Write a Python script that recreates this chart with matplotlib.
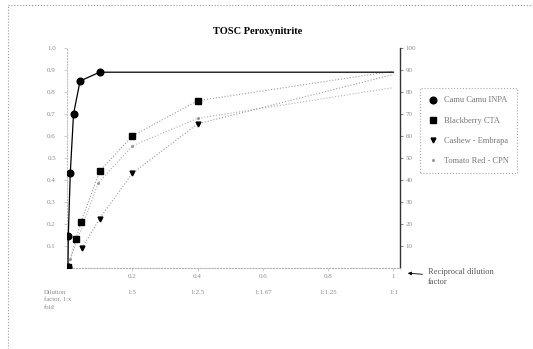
"""TOSC peroxynitrite scavenging vs reciprocal dilution factor."""

import matplotlib

matplotlib.use("Agg")
import matplotlib.pyplot as plt  # noqa: E402
from matplotlib.lines import Line2D  # noqa: E402

plt.rcParams["font.family"] = ["Liberation Serif", "DejaVu Serif"]

TITLE = "TOSC Peroxynitrite"

# reciprocal dilution factor (x) and TOSC % (y)
camu_x = [0.003, 0.004, 0.01, 0.02, 0.04, 0.1, 1.0]
camu_y = [0.5, 14.5, 43, 70, 85, 89, 89]

blackberry_x = [0.003, 0.027, 0.043, 0.1, 0.2, 0.4, 1.0]
blackberry_y = [0.5, 13, 21, 44, 60, 76, 89.5]

cashew_x = [0.046, 0.1, 0.2, 0.4, 1.0]
cashew_y = [9, 22.5, 43, 65.5, 88]

tomato_x = [0.01, 0.095, 0.2, 0.4, 1.0]
tomato_y = [4, 38.5, 55.5, 68, 82]

legend_labels = ["Camu Camu INPA", "Blackberry CTA", "Cashew - Embrapa", "Tomato Red - CPN"]

recip_ticks = [0.2, 0.4, 0.6, 0.8, 1.0]
recip_labels = ["0.2", "0.4", "0.6", "0.8", "1"]
dilution_labels = ["1:5", "1:2.5", "1:1.67", "1:1.25", "1:1"]

right_ticks = [10, 20, 30, 40, 50, 60, 70, 80, 90, 100]
left_ticks = [0.1, 0.2, 0.3, 0.4, 0.5, 0.6, 0.7, 0.8, 0.9, 1.0]

GREY = "#9a9a9a"
LABEL = "#8a8a8a"

fig = plt.figure(figsize=(5.33, 3.49), dpi=100)
ax = fig.add_axes([67 / 533, 1 - 268 / 349, 333 / 533, 220 / 349])

# no marker drawn at the shared end point x = 1
ax.plot(camu_x, camu_y, color="black", lw=0.9, marker="o", ms=4.8,
        markevery=list(range(len(camu_x) - 1)), zorder=4)
ax.plot(blackberry_x, blackberry_y, color=GREY, lw=0.8, ls=":", marker="s",
        ms=4.8, mfc="black", mec="black",
        markevery=list(range(len(blackberry_x) - 1)), zorder=3)
ax.plot(cashew_x, cashew_y, color=GREY, lw=0.8, ls=":", marker="v",
        ms=3.5, mfc="black", mec="black",
        markevery=list(range(len(cashew_x) - 1)), zorder=3)
ax.plot(tomato_x, tomato_y, color="#b0b0b0", lw=0.8, ls=":", marker=".",
        ms=2.5, mfc=GREY, mec=GREY,
        markevery=list(range(len(tomato_x) - 1)), zorder=2)

ax.set_xlim(0, 1.02)
ax.set_ylim(0, 100)

ax.spines["top"].set_visible(False)
ax.spines["right"].set_color("#333333")
ax.spines["right"].set_linewidth(1.0)
ax.spines["bottom"].set_color("#b0b0b0")
ax.spines["bottom"].set_linestyle(":")
ax.spines["left"].set_color("#c0c0c0")
ax.spines["left"].set_linestyle(":")

ax.yaxis.tick_right()
ax.set_yticks(right_ticks)
ax.tick_params(axis="y", length=2, width=0.5, colors="#555555", labelsize=5,
               labelcolor=LABEL, pad=2)
ax.set_xticks(recip_ticks)
ax.set_xticklabels(recip_labels)
ax.tick_params(axis="x", length=2, width=0.5, colors="#bbbbbb", labelsize=5,
               labelcolor=LABEL, pad=2)

sec = ax.secondary_yaxis("left", functions=(lambda v: v / 100, lambda v: v * 100))
sec.set_yticks(left_ticks)
sec.spines["left"].set_visible(False)
sec.tick_params(length=2, width=0.5, colors="#bbbbbb", labelsize=5,
                labelcolor=LABEL, pad=6)

# second row of labels: dilution factor
for xv, lab in zip(recip_ticks, dilution_labels):
    ax.text(xv, -11, lab, ha="center", va="center", fontsize=5, color=LABEL,
            clip_on=False)
fig.text(44 / 533, 1 - 300 / 349, "Dilution\nfactor, 1:x\nfold", ha="left",
         va="center", fontsize=4.8, color=LABEL, linespacing=1.5)

ax.annotate("Reciprocal dilution\nfactor", xy=(405 / 533, 1 - 273 / 349),
            xytext=(428 / 533, 1 - 277 / 349), xycoords="figure fraction",
            textcoords="figure fraction", fontsize=6, color="#555555",
            va="center", ha="left",
            arrowprops=dict(arrowstyle="-|>", color="black", lw=0.6,
                            mutation_scale=5))

fig.text(258 / 533, 1 - 32 / 349, TITLE, ha="center", va="center",
         fontsize=7.5, fontweight="bold")

handles = [
    Line2D([], [], ls="none", marker="o", ms=4.8, color="black"),
    Line2D([], [], ls="none", marker="s", ms=4.8, color="black"),
    Line2D([], [], ls="none", marker="v", ms=3.5, color="black"),
    Line2D([], [], ls="none", marker=".", ms=2.5, color=GREY),
]
leg = fig.legend(handles, legend_labels, loc="upper left",
                 bbox_to_anchor=(416 / 533, 1 - 84 / 349), fontsize=6,
                 labelspacing=1.45, handlelength=1.0, handletextpad=0.8,
                 borderpad=1.0, fancybox=False, framealpha=1)
leg.get_frame().set_edgecolor("#aaaaaa")
leg.get_frame().set_linestyle(":")
leg.get_frame().set_linewidth(0.8)
for t in leg.get_texts():
    t.set_color("#777777")

# dotted outer border of the original chart object
fig.add_artist(Line2D([8 / 533, 1], [1 - 5 / 349] * 2, transform=fig.transFigure,
                      color="#999999", lw=0.8, ls=":"))
fig.add_artist(Line2D([8 / 533] * 2, [0, 1 - 5 / 349], transform=fig.transFigure,
                      color="#999999", lw=0.8, ls=":"))

fig.savefig("out.png", dpi=100)
